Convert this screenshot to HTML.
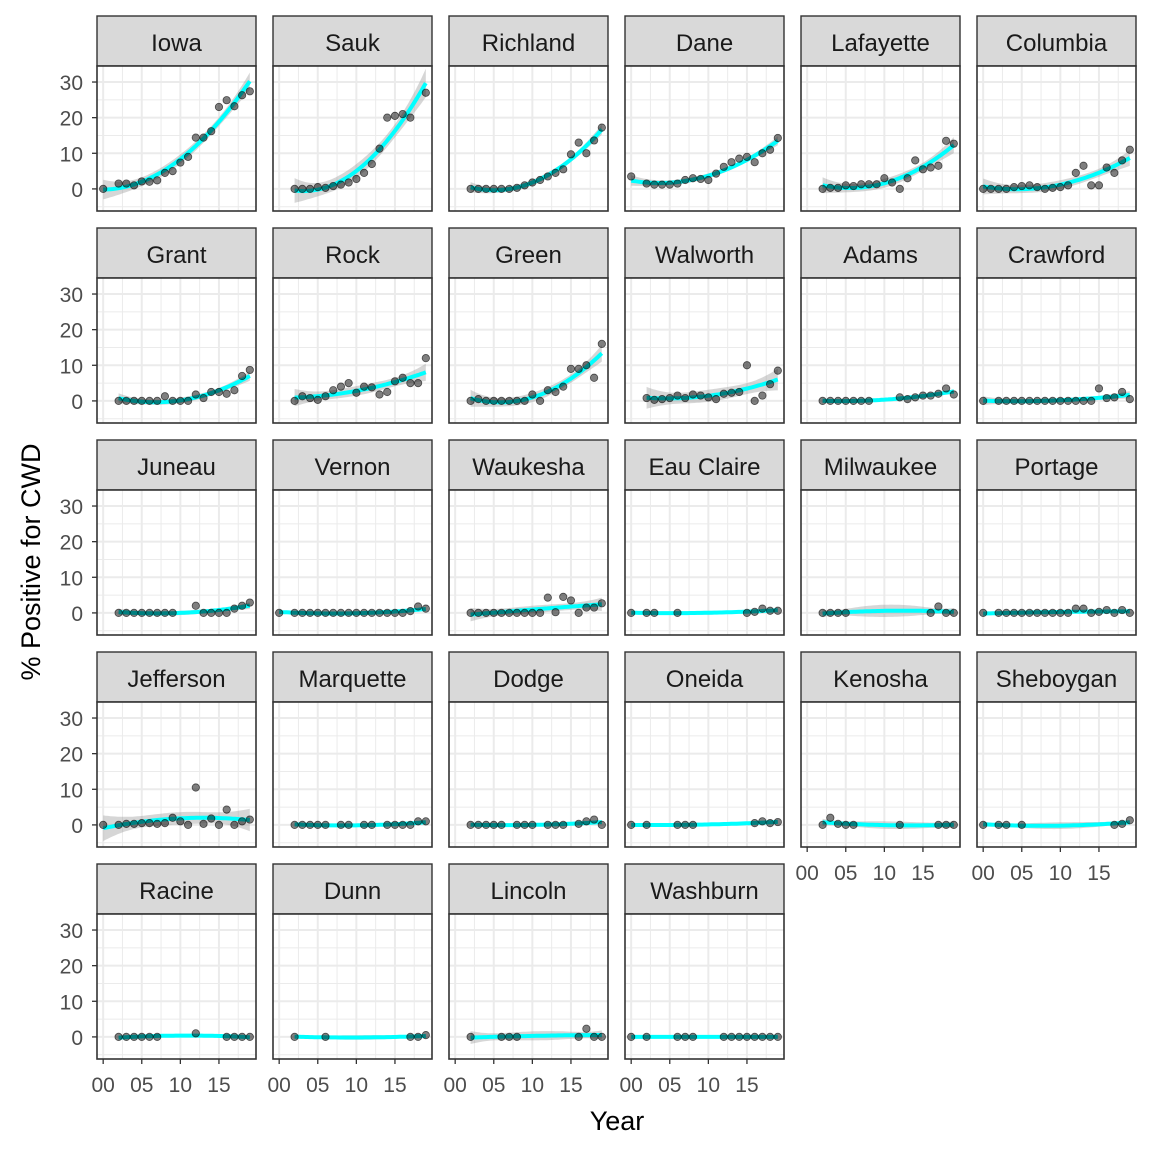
<!DOCTYPE html>
<html><head><meta charset="utf-8">
<style>
html,body{margin:0;padding:0;background:#fff;}
svg{display:block;font-family:"Liberation Sans",Arial,sans-serif;}
</style></head>
<body>
<svg id="chart" width="1152" height="1152" viewBox="0 0 1152 1152">
<text x="617" y="1130" font-size="27" text-anchor="middle" fill="#000">Year</text>
<text x="40" y="562" font-size="27" text-anchor="middle" fill="#000" transform="rotate(-90 40 562)">% Positive for CWD</text>
</svg>
<script>
const counties = ["Iowa","Sauk","Richland","Dane","Lafayette","Columbia","Grant","Rock","Green","Walworth","Adams","Crawford","Juneau","Vernon","Waukesha","Eau Claire","Milwaukee","Portage","Jefferson","Marquette","Dodge","Oneida","Kenosha","Sheboygan","Racine","Dunn","Lincoln","Washburn"];
const years = {
Iowa:[0,2,3,4,5,6,7,8,9,10,11,12,13,14,15,16,17,18,19],
Sauk:[2,3,4,5,6,7,8,9,10,11,12,13,14,15,16,17,19],
Richland:[2,3,4,5,6,7,8,9,10,11,12,13,14,15,16,17,18,19],
Dane:[0,2,3,4,5,6,7,8,9,10,11,12,13,14,15,16,17,18,19],
Lafayette:[2,3,4,5,6,7,8,9,10,11,12,13,14,15,16,17,18,19],
Columbia:[0,1,2,3,4,5,6,7,8,9,10,11,12,13,14,15,16,17,18,19],
Grant:[2,3,4,5,6,7,8,9,10,11,12,13,14,15,16,17,18,19],
Rock:[2,3,4,5,6,7,8,9,10,11,12,13,14,15,16,17,18,19],
Green:[2,3,4,5,6,7,8,9,10,11,12,13,14,15,16,17,18,19],
Walworth:[2,3,4,5,6,7,8,9,10,11,12,13,14,15,16,17,18,19],
Adams:[2,3,4,5,6,7,8,12,13,14,15,16,17,18,19],
Crawford:[0,2,3,4,5,6,7,8,9,10,11,12,13,14,15,16,17,18,19],
Juneau:[2,3,4,5,6,7,8,9,12,13,14,15,16,17,18,19],
Vernon:[0,2,3,4,5,6,7,8,9,10,11,12,13,14,15,16,17,18,19],
Waukesha:[2,3,4,5,6,7,8,9,10,11,12,13,14,15,16,17,18,19],
"Eau Claire":[0,2,3,6,15,16,17,18,19],
Milwaukee:[2,3,4,5,16,17,18,19],
Portage:[0,2,3,4,5,6,7,8,9,10,11,12,13,14,15,16,17,18,19],
Jefferson:[0,2,3,4,5,6,7,8,9,10,11,12,13,14,15,16,17,18,19],
Marquette:[2,3,4,5,6,8,9,11,12,14,15,16,17,18,19],
Dodge:[2,3,4,5,6,8,9,10,12,13,14,16,17,18,19],
Oneida:[0,2,6,7,8,16,17,18,19],
Kenosha:[2,3,4,5,6,12,17,18,19],
Sheboygan:[0,2,3,5,17,18,19],
Racine:[2,3,4,5,6,7,12,16,17,18,19],
Dunn:[2,6,17,18,19],
Lincoln:[2,6,7,8,16,17,18,19],
Washburn:[0,2,6,7,8,12,13,14,15,16,17,18,19]
};
const values = {
Iowa:[0,1.5,1.5,1,2.1,2,2.4,4.5,5,7.4,9,14.4,14.4,16.2,23,24.9,23.2,26.3,27.4],
Sauk:[0,0,0,0.5,0.3,0.8,1.2,1.8,2.8,4.5,7,11.3,20,20.5,21,20,27],
Richland:[0,0,0,0,0,0,0.3,1,1.8,2.5,3.5,4.5,5.5,9.7,13,10,13.6,17.2],
Dane:[3.5,1.5,1.2,1.2,1.2,1.5,2.5,3,2.8,2.5,4.3,6.2,7.5,8.5,9,7.5,10,11,14.3],
Lafayette:[0,0.3,0.3,1,0.8,1.3,1.3,1.3,3,1.8,0,3,8,5.5,6,6.5,13.5,12.7],
Columbia:[0,0,0,0,0.5,0.8,1,0.5,0,0.3,0.5,1,4.5,6.5,1,1,6,4.5,8,11],
Grant:[0,0,0,0,0,0,1.3,0,0,0,1.8,0.8,2.5,2.5,2,3,7,8.7],
Rock:[0,1.3,0.8,0.3,1.3,3,4,5,2.3,4,3.8,1.8,2.5,5.5,6.5,5,5,12],
Green:[0,0.5,0,0,0,0,0,0,1.8,0,3,2.5,4,9,9,10,6.5,16],
Walworth:[0.8,0.3,0.5,0.8,1.5,0.8,1.8,1.5,1,0.5,2,2.3,2.5,10,0,1.5,4.7,8.5],
Adams:[0,0,0,0,0,0,0,1,0.5,1,1.5,1.5,2,3.5,1.8],
Crawford:[0,0,0,0,0,0,0,0,0,0,0,0,0,0,3.5,0.8,1,2.5,0.5],
Juneau:[0,0,0,0,0,0,0,0,2,0,0,0,0,1.2,2,2.9],
Vernon:[0,0,0,0,0,0,0,0,0,0,0,0,0,0,0,0,0.5,1.8,1.2],
Waukesha:[0,0,0,0,0,0,0,0,0,0,4.3,0.2,4.5,3.5,0,1.5,1.5,2.7],
"Eau Claire":[0,0,0,0,0,0.3,1.2,0.6,0.6],
Milwaukee:[0,0,0,0,0,1.8,0,0],
Portage:[0,0,0,0,0,0,0,0,0,0,0,1.2,1.2,0,0.3,0.8,0,0.8,0],
Jefferson:[0,0,0.3,0.3,0.5,0.5,0.3,0.5,2,1,0,10.5,0.3,1.8,0,4.3,0,1,1.5],
Marquette:[0,0,0,0,0,0,0,0,0,0,0,0,0,1,1],
Dodge:[0,0,0,0,0,0,0,0,0,0,0,0.3,1,1.5,0],
Oneida:[0,0,0,0,0,0.5,1,0.5,0.8],
Kenosha:[0,2,0.3,0,0,0,0,0,0],
Sheboygan:[0,0,0,0,0,0.3,1.3],
Racine:[0,0,0,0,0,0,1,0,0,0,0],
Dunn:[0,0,0,0,0.5],
Lincoln:[0,0,0,0,0,2.3,0,0],
Washburn:[0,0,0,0,0,0,0,0,0,0,0,0,0]
};
const yTicks = [0,10,20,30];
const yTickLabels = ["0","10","20","30"];
const xTicks = [0,5,10,15];
const xTickLabels = ["00","05","10","15"];

const NS="http://www.w3.org/2000/svg";
const svg=document.getElementById('chart');
const colL=[97,273,449,625,801,977], PW=159, rowT=[16,228,440,652,864], SH=50, PH=145;
const XMIN=-0.8, XMAX=19.8, YMIN=-6.2, YMAX=34.5;
function mk(tag,attrs,parent){const e=document.createElementNS(NS,tag);for(const k in attrs)e.setAttribute(k,attrs[k]);(parent||svg).appendChild(e);return e;}
function inv3(m){
  const [a,b,c]=m[0],[d,e,f]=m[1],[g,h,i]=m[2];
  const A=e*i-f*h,B=-(d*i-f*g),C=d*h-e*g;const det=a*A+b*B+c*C;
  if(Math.abs(det)<1e-9) return null;
  return [[A/det,-(b*i-c*h)/det,(b*f-c*e)/det],[B/det,(a*i-c*g)/det,-(a*f-c*d)/det],[C/det,-(a*h-b*g)/det,(a*e-b*d)/det]];
}
// global quadratic least-squares fit with standard error
function quadFit(X,Y){
  const n=X.length, mx=X.reduce((a,b)=>a+b,0)/n;
  const M=[[0,0,0],[0,0,0],[0,0,0]], v=[0,0,0];
  for(let i=0;i<n;i++){const t=X[i]-mx;const r=[1,t,t*t];for(let a=0;a<3;a++){v[a]+=r[a]*Y[i];for(let b=0;b<3;b++)M[a][b]+=r[a]*r[b];}}
  const inv=inv3(M); if(!inv) return null;
  const beta=[0,1,2].map(a=>inv[a][0]*v[0]+inv[a][1]*v[1]+inv[a][2]*v[2]);
  let rss=0;for(let i=0;i<n;i++){const t=X[i]-mx;rss+=(Y[i]-(beta[0]+beta[1]*t+beta[2]*t*t))**2;}
  const sig=Math.sqrt(rss/Math.max(1,n-3));
  return function(x){const t=x-mx;const r=[1,t,t*t];let q=0;for(let a=0;a<3;a++)for(let b=0;b<3;b++)q+=r[a]*inv[a][b]*r[b];
    return [beta[0]+beta[1]*t+beta[2]*t*t, 2.1*sig*Math.sqrt(Math.max(q,0))];};
}

counties.forEach((name,idx)=>{
  const r=Math.floor(idx/6), c=idx%6;
  const L=colL[c], ST=rowT[r], T=ST+SH;
  const xs=v=>L+(v-XMIN)/(XMAX-XMIN)*PW;
  const ys=v=>T+(YMAX-v)/(YMAX-YMIN)*PH;
  const g=mk('g',{});
  
  
  const st=mk('rect',{x:L,y:ST,width:PW,height:SH,fill:'#d9d9d9',stroke:'#333','stroke-width':1.4},g);
  
  
  const tl=mk('text',{x:L+PW/2,y:ST+35,'font-size':24,'text-anchor':'middle',fill:'#1a1a1a'},g);
  tl.textContent=name;
  
  
  mk('rect',{x:L,y:T,width:PW,height:PH,fill:'#fff'},g);
  for(let v=-5;v<=35;v+=10){ if(v<YMIN||v>YMAX)continue; mk('line',{x1:L,x2:L+PW,y1:ys(v),y2:ys(v),stroke:'#ebebeb','stroke-width':1},g);}
  for(let v=-2.5;v<=20;v+=5){ if(v<XMIN||v>XMAX)continue; mk('line',{x1:xs(v),x2:xs(v),y1:T,y2:T+PH,stroke:'#ebebeb','stroke-width':1},g);}
  yTicks.forEach(v=>mk('line',{x1:L,x2:L+PW,y1:ys(v),y2:ys(v),stroke:'#ebebeb','stroke-width':2},g));
  xTicks.forEach(v=>mk('line',{x1:xs(v),x2:xs(v),y1:T,y2:T+PH,stroke:'#ebebeb','stroke-width':2},g));
  const X=years[name], Y=values[name], n=X.length;
  const f=quadFit(X,Y);
  const x0=Math.min(...X), x1=Math.max(...X);
  if(f){
    const fit=[];
    for(let k=0;k<=60;k++){const x=x0+(x1-x0)*k/60;const o=f(x);fit.push([x,o[0],o[1]]);}
    const up=fit.map(p=>xs(p[0]).toFixed(1)+','+ys(p[1]+p[2]).toFixed(1));
    const dn=fit.slice().reverse().map(p=>xs(p[0]).toFixed(1)+','+ys(p[1]-p[2]).toFixed(1));
    const rb=mk('polygon',{points:up.concat(dn).join(' '),fill:'#999','fill-opacity':0.4},g);
    
    
    const ln=mk('polyline',{points:fit.map(p=>xs(p[0]).toFixed(1)+','+ys(p[1]).toFixed(1)).join(' '),fill:'none',stroke:'#00ffff','stroke-width':4},g);
    
    
  }
  for(let i=0;i<n;i++){
    const p=mk('circle',{cx:xs(X[i]),cy:ys(Y[i]),r:3.7,fill:'#000','fill-opacity':0.5,stroke:'#000','stroke-opacity':0.6,'stroke-width':0.8},g);
    
    
  }
  mk('rect',{x:L,y:T,width:PW,height:PH,fill:'none',stroke:'#333','stroke-width':1.6},g);
  if(c===0){
    yTicks.forEach((v,i)=>{
      mk('line',{x1:L-5,x2:L,y1:ys(v),y2:ys(v),stroke:'#333','stroke-width':1.3},g);
      const t=mk('text',{x:L-14,y:ys(v)+8,'font-size':21,'text-anchor':'end',fill:'#4d4d4d'},g);
      t.textContent=yTickLabels[i];
      
      
    });
  }
  if(r===4 || (r===3 && c>=4)){
    xTicks.forEach((v,i)=>{
      mk('line',{x1:xs(v),x2:xs(v),y1:T+PH,y2:T+PH+5,stroke:'#333','stroke-width':1.3},g);
      const t=mk('text',{x:xs(v),y:T+PH+33,'font-size':21,'text-anchor':'middle',fill:'#4d4d4d'},g);
      t.textContent=xTickLabels[i];
      
      
    });
  }
});
</script>
</body></html>
